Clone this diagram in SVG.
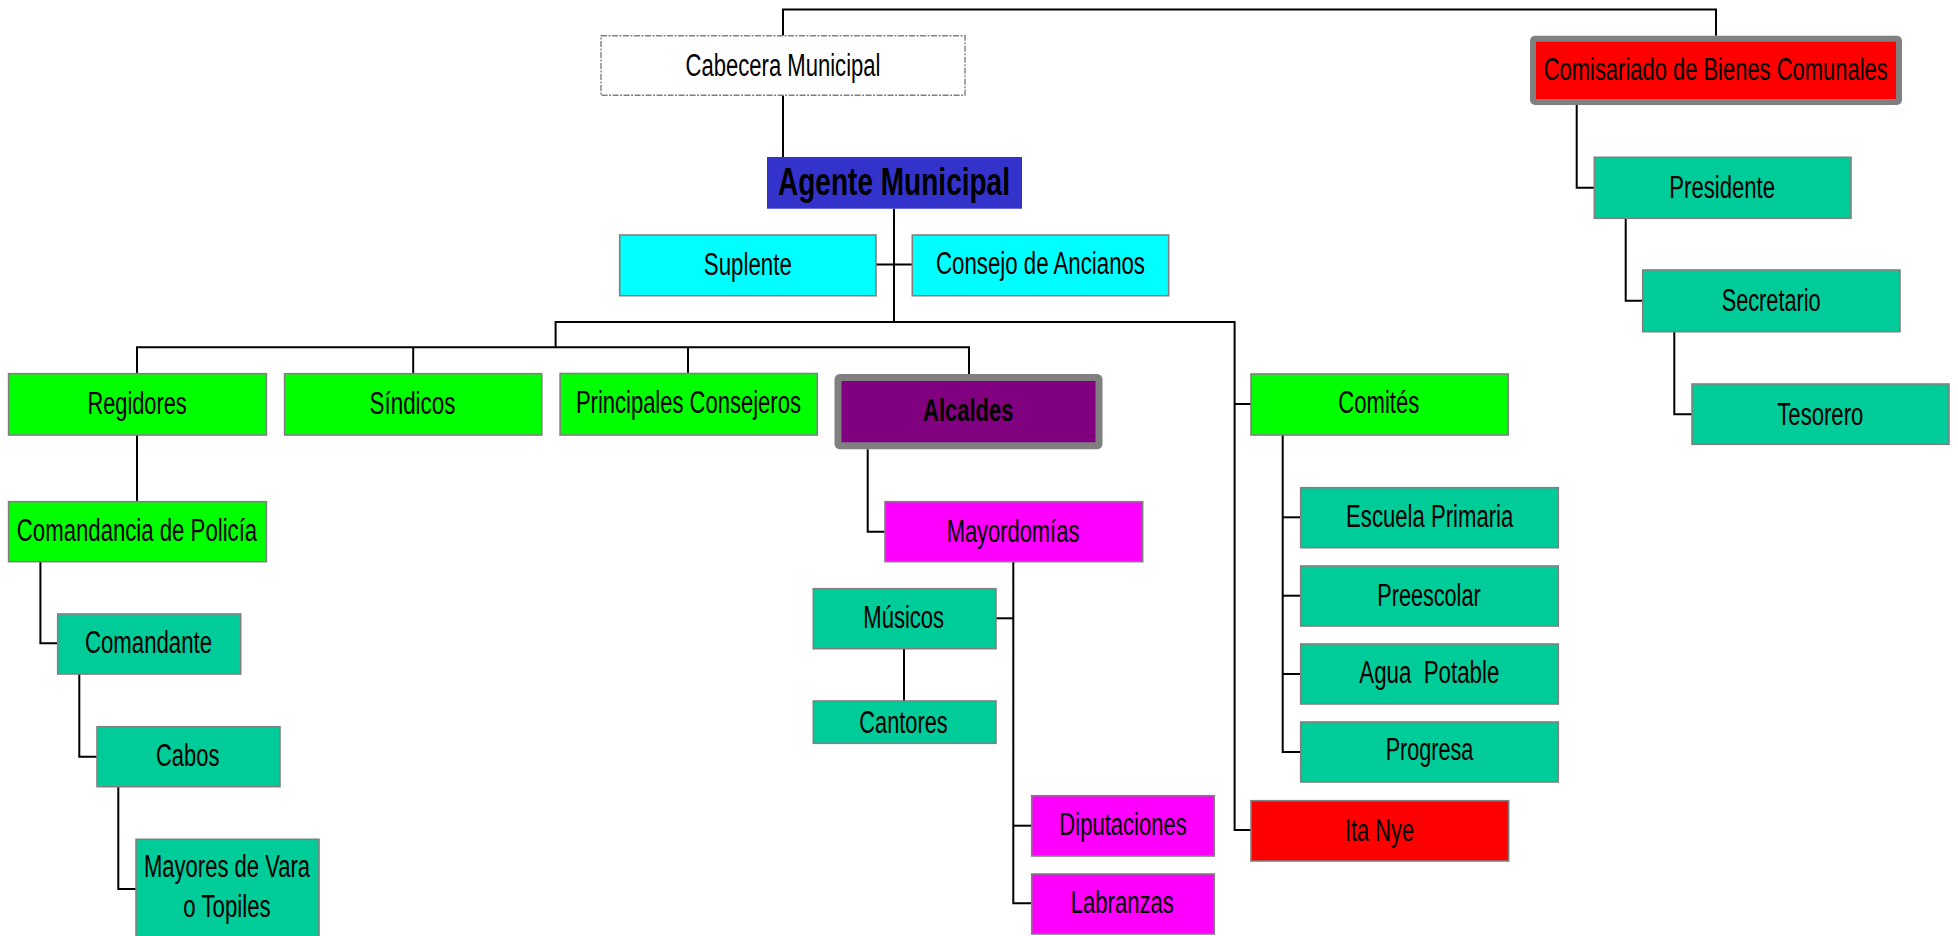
<svg xmlns="http://www.w3.org/2000/svg" width="1958" height="936" viewBox="0 0 1958 936">
<style>
text{font-family:"Liberation Sans Narrow","Liberation Sans",Arial,sans-serif;font-size:31px;fill:#000;text-anchor:middle}
.b{stroke:#808080;stroke-width:1.6}
.g{fill:#00FF00}.t{fill:#00CC99}.c{fill:#00FFFF}.m{fill:#FF00FF}.r{fill:#FF0000}
.bold{font-weight:bold}
#connectors path{fill:none;stroke:#000;stroke-width:2}
</style>
<rect width="1958" height="936" fill="#fff"/>
<g id="connectors">
<path d="M783 35.7V9.5H1716V35.7"/>
<path d="M783 95.3V157"/>
<path d="M894 208.7V322"/>
<path d="M876 264.5H912.3"/>
<path d="M555.6 347.3V322H1234.6V830H1251"/>
<path d="M1234.6 404H1251"/>
<path d="M137 373.7V347.3H969V374"/>
<path d="M413.2 347.3V373.7"/>
<path d="M688 347.3V373.3"/>
<path d="M137 435V501.7"/>
<path d="M40.4 561.7V643.3H57.7"/>
<path d="M79.3 674V756.7H97"/>
<path d="M118.3 786.7V889H136"/>
<path d="M867.7 449.3V531.7H885"/>
<path d="M1013.3 561.7V903.3H1031.7"/>
<path d="M1013.3 825.7H1031.7"/>
<path d="M996 618.3H1013.3"/>
<path d="M904 648.7V701"/>
<path d="M1282.7 435V752H1300.7"/>
<path d="M1282.7 517.3H1300.7"/>
<path d="M1282.7 595.7H1300.7"/>
<path d="M1282.7 674H1300.7"/>
<path d="M1576.7 105V187.7H1594.3"/>
<path d="M1625.7 218.3V300.7H1642.7"/>
<path d="M1674.3 331.7V414.3H1692"/>
</g>
<g id="cabecera"><rect x="601" y="35.7" width="364" height="59.6" fill="#fff" stroke="#808080" stroke-width="1.4" stroke-dasharray="6 1.5 2 1.5"/><text x="783" y="76" textLength="195" lengthAdjust="spacingAndGlyphs">Cabecera Municipal</text></g>
<g id="agente"><rect x="767" y="157" width="255" height="51.7" fill="#3333CC"/><text class="bold" x="894" y="195" textLength="232" lengthAdjust="spacingAndGlyphs" style="font-size:39px">Agente Municipal</text></g>
<g id="suplente"><rect class="b c" x="619.7" y="235" width="256.3" height="60.7"/><text x="747.8" y="275" textLength="88" lengthAdjust="spacingAndGlyphs">Suplente</text></g>
<g id="consejo"><rect class="b c" x="912.3" y="235" width="256.4" height="60.7"/><text x="1040.5" y="274.3" textLength="209" lengthAdjust="spacingAndGlyphs">Consejo de Ancianos</text></g>
<g id="comisariado"><rect x="1533" y="38.7" width="366" height="63.3" rx="2" class="r" stroke="#808080" stroke-width="6"/><text x="1715.7" y="80" textLength="344" lengthAdjust="spacingAndGlyphs">Comisariado de Bienes Comunales</text></g>
<g id="presidente"><rect class="b t" x="1594.3" y="157.3" width="256.7" height="61"/><text x="1722.2" y="198.3" textLength="105.7" lengthAdjust="spacingAndGlyphs">Presidente</text></g>
<g id="secretario"><rect class="b t" x="1642.7" y="270" width="257.3" height="61.7"/><text x="1771.2" y="311" textLength="99" lengthAdjust="spacingAndGlyphs">Secretario</text></g>
<g id="tesorero"><rect class="b t" x="1692" y="384" width="257" height="60.3"/><text x="1820.3" y="425" textLength="86" lengthAdjust="spacingAndGlyphs">Tesorero</text></g>
<g id="regidores"><rect class="b g" x="8.6" y="373.7" width="257.8" height="61.3"/><text x="137.1" y="414" textLength="99.3" lengthAdjust="spacingAndGlyphs">Regidores</text></g>
<g id="sindicos"><rect class="b g" x="284.6" y="373.7" width="257.2" height="61.3"/><text x="412.5" y="414" textLength="85.8" lengthAdjust="spacingAndGlyphs">Síndicos</text></g>
<g id="principales"><rect class="b g" x="560.1" y="373.5" width="257.2" height="61.5"/><text x="688.4" y="413.3" textLength="225" lengthAdjust="spacingAndGlyphs">Principales Consejeros</text></g>
<g id="alcaldes"><rect x="838" y="377.5" width="261" height="68.3" rx="2" fill="#800080" stroke="#808080" stroke-width="7"/><text class="bold" x="968.2" y="421" textLength="90.3" lengthAdjust="spacingAndGlyphs">Alcaldes</text></g>
<g id="comites"><rect class="b g" x="1251" y="374" width="257.3" height="61"/><text x="1378.8" y="413.3" textLength="81" lengthAdjust="spacingAndGlyphs">Comités</text></g>
<g id="comandancia"><rect class="b g" x="8.6" y="501.7" width="257.8" height="60"/><text x="137" y="540.7" textLength="240.3" lengthAdjust="spacingAndGlyphs">Comandancia de Policía</text></g>
<g id="comandante"><rect class="b t" x="57.7" y="614" width="183" height="60"/><text x="148.5" y="653.3" textLength="127" lengthAdjust="spacingAndGlyphs">Comandante</text></g>
<g id="cabos"><rect class="b t" x="97" y="726.7" width="183" height="60"/><text x="187.7" y="765.7" textLength="63.3" lengthAdjust="spacingAndGlyphs">Cabos</text></g>
<g id="mayores"><rect class="b t" x="136" y="839.3" width="183" height="106"/><text x="227" y="876.7" textLength="166" lengthAdjust="spacingAndGlyphs">Mayores de Vara</text><text x="227" y="916.7" textLength="87.3" lengthAdjust="spacingAndGlyphs">o Topiles</text></g>
<g id="mayordomias"><rect class="b m" x="885" y="501.7" width="257.7" height="60"/><text x="1013" y="541.7" textLength="132.7" lengthAdjust="spacingAndGlyphs">Mayordomías</text></g>
<g id="musicos"><rect class="b t" x="813.3" y="588.7" width="182.7" height="60"/><text x="903.7" y="627.7" textLength="80.7" lengthAdjust="spacingAndGlyphs">Músicos</text></g>
<g id="cantores"><rect class="b t" x="813.3" y="701" width="182.7" height="42.3"/><text x="903.5" y="732.7" textLength="88.3" lengthAdjust="spacingAndGlyphs">Cantores</text></g>
<g id="diputaciones"><rect class="b m" x="1031.7" y="795.7" width="182.6" height="60.3"/><text x="1123" y="835" textLength="127.3" lengthAdjust="spacingAndGlyphs">Diputaciones</text></g>
<g id="labranzas"><rect class="b m" x="1031.7" y="874" width="182.6" height="60"/><text x="1122.3" y="912.7" textLength="103.3" lengthAdjust="spacingAndGlyphs">Labranzas</text></g>
<g id="itanye"><rect class="b r" x="1251" y="800.7" width="257.7" height="60.3"/><text x="1379.5" y="841" textLength="69" lengthAdjust="spacingAndGlyphs">Ita Nye</text></g>
<g id="escuela"><rect class="b t" x="1300.7" y="487.7" width="257.6" height="60"/><text x="1429.7" y="526.7" textLength="167.3" lengthAdjust="spacingAndGlyphs">Escuela Primaria</text></g>
<g id="preescolar"><rect class="b t" x="1300.7" y="566" width="257.6" height="60"/><text x="1429" y="606" textLength="103.3" lengthAdjust="spacingAndGlyphs">Preescolar</text></g>
<g id="agua"><rect class="b t" x="1300.7" y="644" width="257.6" height="60"/><text x="1429.3" y="683.3" textLength="140" lengthAdjust="spacingAndGlyphs" xml:space="preserve">Agua  Potable</text></g>
<g id="progresa"><rect class="b t" x="1300.7" y="722" width="257.6" height="60"/><text x="1429.5" y="760" textLength="87.7" lengthAdjust="spacingAndGlyphs">Progresa</text></g>
</svg>
